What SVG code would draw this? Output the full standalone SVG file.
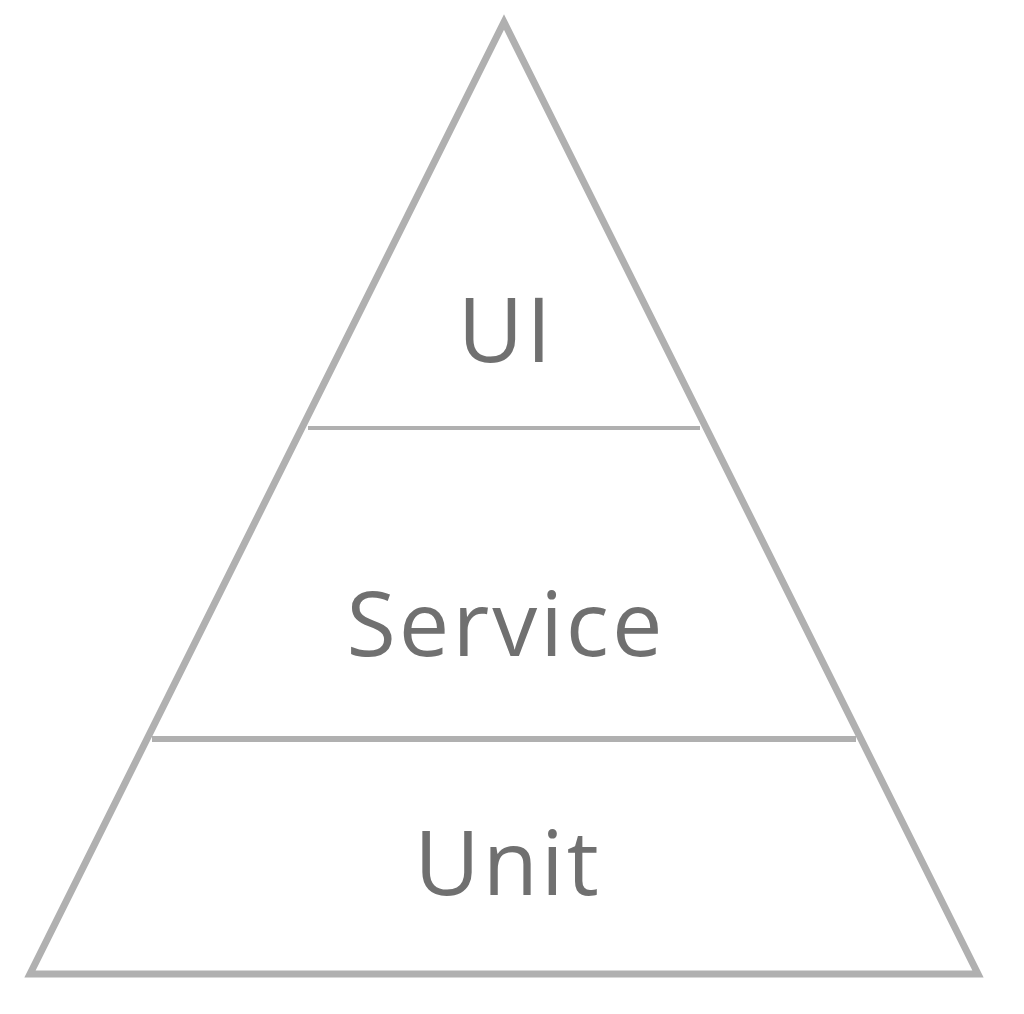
<svg xmlns="http://www.w3.org/2000/svg" width="1024" height="1014" viewBox="0 0 1024 1014">
<style>
.edge{stroke:#b0b0b0;fill:none}
.lbl{font-family:"Open Sans","Liberation Sans",sans-serif;font-size:90px;letter-spacing:3px;fill:#707070;text-anchor:middle}
</style>
<rect width="1024" height="1014" fill="#fff"/>
<g id="connectors">
<polygon class="edge" stroke-width="7" stroke-linejoin="miter" points="504,22 978,974 30,974"/>
<line class="edge" stroke-width="4" x1="308" y1="428" x2="700" y2="428"/>
<line class="edge" stroke-width="6" x1="152" y1="739" x2="856" y2="739"/>
</g>
<g id="ui"><text class="lbl" x="506" y="362">UI</text></g>
<g id="service"><text class="lbl" x="506" y="656">Service</text></g>
<g id="unit"><text class="lbl" x="508" y="895">Unit</text></g>
</svg>
